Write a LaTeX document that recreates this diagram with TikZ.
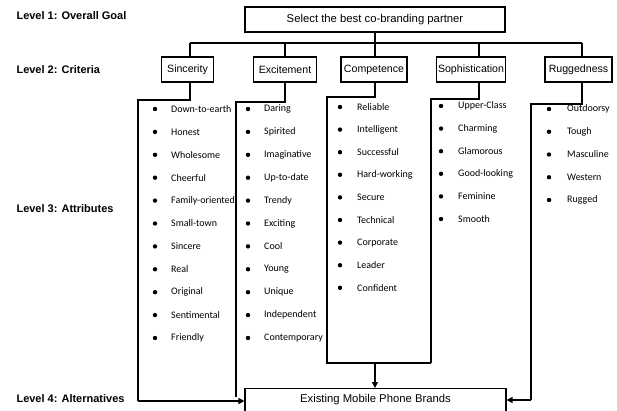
\documentclass[tikz,border=0pt]{standalone}
\usepackage{fontspec}
\setmainfont{Liberation Sans}
\newfontfamily\attrfont{Carlito}
\usetikzlibrary{arrows.meta,calc}
\tikzset{
  ln/.style={line width=1.2pt},
  arr/.style={ln,-{Triangle[length=6pt,width=6pt]}},
  critbox/.style={draw,line width=1.1pt,minimum height=25pt,inner sep=0pt,font=\fontsize{10.6}{12}\selectfont},
  bigtxt/.style={font=\fontsize{11.3}{13}\selectfont},
  levellab/.style={anchor=west,font=\fontsize{11}{13}\selectfont\bfseries},
  attr/.style={anchor=west,inner sep=0pt,font=\attrfont\fontsize{10}{12}\selectfont},
  bul/.style={fill=black,draw=none}
}
\begin{document}
\begin{tikzpicture}[x=1pt,y=-1pt]
\useasboundingbox (0,0) rectangle (617,411);
% level labels
\node[levellab] (l1) at (13,16) {Level 1: Overall Goal};
\node[levellab] (l2) at (13,70) {Level 2: Criteria};
\node[levellab] (l3) at (13,209) {Level 3: Attributes};
\node[levellab] (l4) at (13,399) {Level 4: Alternatives};
% top box
\node[critbox,bigtxt,minimum width=260pt] (top) at (375,19.5) {Select the best co-branding partner};
% criteria
\node[critbox,minimum width=52pt] (c1) at (187.5,69.5) {Sincerity};
\node[critbox,minimum width=63pt] (c2) at (285,69.5) {Excitement};
\node[critbox,minimum width=66pt] (c3) at (374,69.5) {Competence};
\node[critbox,minimum width=69pt] (c4) at (471,69.5) {Sophistication};
\node[critbox,minimum width=67pt] (c5) at (578.5,69.5) {Ruggedness};
% bottom box
\node[critbox,minimum width=261pt,minimum height=34pt,anchor=north] (bot) at (375.5,388) {};
\node[bigtxt] (bottxt) at (375.5,400) {Existing Mobile Phone Brands};
% bus
\coordinate (d1) at (190,43);
\coordinate (d2) at (285,43);
\coordinate (d3) at (375,43);
\coordinate (d4) at (479,43);
\coordinate (d5) at (582,43);
\draw[line width=2pt] (top.south -| d3) -- (d3);
\draw[ln] (d1) -- (d5);
\foreach \i in {1,...,5}{\draw[ln] (d\i) -- (d\i |- c\i.north);}
% column corners
\coordinate (s1) at (138,100);
\coordinate (s2) at (236,102);
\coordinate (s3) at (327,97);
\coordinate (s4) at (431,99);
\coordinate (s5) at (531,104);
\coordinate (e1) at (138,401);
\coordinate (e2) at (236,397);
\coordinate (e3) at (327,363);
\coordinate (e4) at (431,363);
\coordinate (e5) at (531,400);
\draw[ln] (d1 |- c1.south) -- (d1 |- s1) -- (s1) -- (e1);
\draw[arr] (e1) -- (e1 -| bot.west);
\draw[ln] (d2 |- c2.south) -- (d2 |- s2) -- (s2) -- (e2);
\draw[ln] (d3 |- c3.south) -- (d3 |- s3) -- (s3) -- (e3) -- (e4);
\draw[arr] (d3 |- e3) -- (d3 |- bot.north);
\draw[ln] (d4 |- c4.south) -- (d4 |- s4) -- (s4) -- (e4);
\draw[ln] (d5 |- c5.south) -- (d5 |- s5) -- (s5) -- (e5);
\draw[arr] (e5) -- (e5 -| bot.east);
% attributes
\foreach \t [count=\k] in {Down-to-earth,Honest,Wholesome,Cheerful,Family-oriented,Small-town,Sincere,Real,Original,Sentimental,Friendly}{
  \pgfmathsetmacro\yy{109+(\k-1)*22.9}
  \fill[bul] (155,\yy) circle (2.2);
  \node[attr] (a1-\k) at (171,\yy) {\t};
}
\foreach \t [count=\k] in {Daring,Spirited,Imaginative,Up-to-date,Trendy,Exciting,Cool,Young,Unique,Independent,Contemporary}{
  \pgfmathsetmacro\yy{109+(\k-1)*22.9}
  \fill[bul] (248,\yy) circle (2.2);
  \node[attr] (a2-\k) at (264,\yy) {\t};
}
\foreach \t [count=\k] in {Reliable,Intelligent,Successful,Hard-working,Secure,Technical,Corporate,Leader,Confident}{
  \pgfmathsetmacro\yy{107+(\k-1)*22.6}
  \fill[bul] (340,\yy) circle (2.2);
  \node[attr] (a3-\k) at (357,\yy) {\t};
}
\foreach \t [count=\k] in {Upper-Class,Charming,Glamorous,Good-looking,Feminine,Smooth}{
  \pgfmathsetmacro\yy{106+(\k-1)*22.6}
  \fill[bul] (441,\yy) circle (2.2);
  \node[attr] (a4-\k) at (458,\yy) {\t};
}
\foreach \t [count=\k] in {Outdoorsy,Tough,Masculine,Western,Rugged}{
  \pgfmathsetmacro\yy{109+(\k-1)*22.75}
  \fill[bul] (549,\yy) circle (2.2);
  \node[attr] (a5-\k) at (567,\yy) {\t};
}
\end{tikzpicture}
\end{document}
